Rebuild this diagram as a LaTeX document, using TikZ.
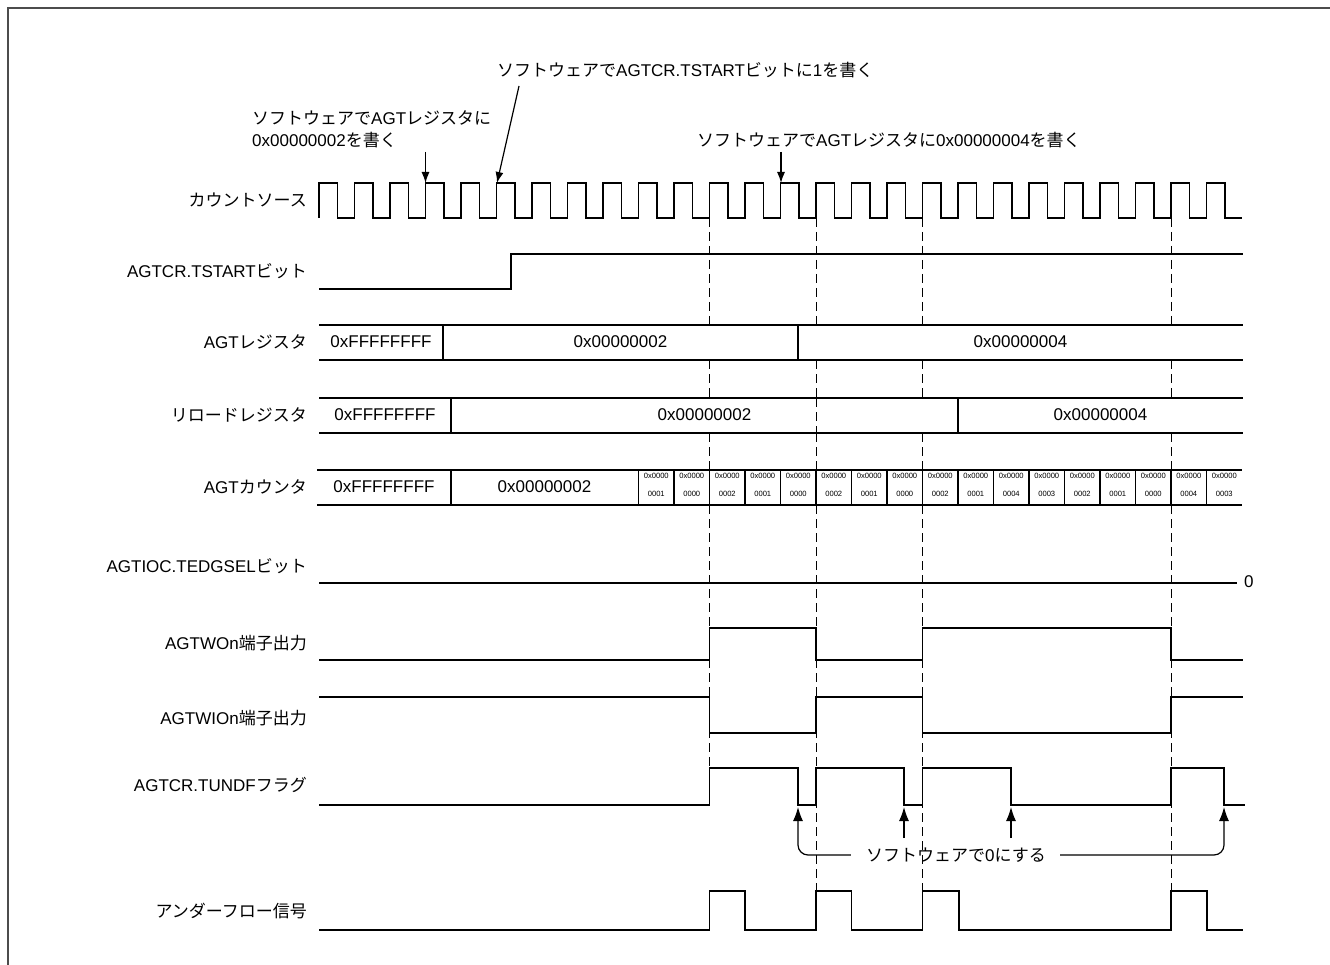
\documentclass[tikz,border=0pt]{standalone}
\usepackage{fontspec}
\setmainfont{Liberation Sans}
\newfontfamily\jp{Noto Sans CJK JP}
\usetikzlibrary{arrows.meta}
\begin{document}
\begin{tikzpicture}[x=1pt,y=-1pt,
  wave/.style={line width=1.3pt, line join=miter},
  lbl/.style={anchor=east, inner sep=0pt, font=\fontsize{17}{20}\selectfont},
  val/.style={inner sep=0pt, font=\fontsize{17}{20}\selectfont},
  tiny/.style={inner sep=0pt, font=\fontsize{7.6}{9}\selectfont},
  guide/.style={line width=0.8pt, dash pattern=on 9pt off 5pt},
  ann/.style={inner sep=0pt, anchor=west, font=\fontsize{17}{20}\selectfont},
  pt/.style={-{Latex[length=11pt,width=8pt]}, line width=1.2pt},
  ptb/.style={-{Latex[length=14pt,width=10pt]}, line width=1.2pt},
  frame/.style={line width=1.2pt, draw=black!70}
]
\useasboundingbox (0,0) rectangle (1330,965);
\draw[frame] (8,965) -- (8,8) -- (1330,8);

% ---- labels
\node[lbl] (l1) at (307,200) {{\jp カウントソース}};
\node[lbl] (l2) at (307,271) {AGTCR.TSTART{\jp ビット}};
\node[lbl] (l3) at (307,342) {AGT{\jp レジスタ}};
\node[lbl] (l4) at (307,415) {{\jp リロードレジスタ}};
\node[lbl] (l5) at (307,487) {AGT{\jp カウンタ}};
\node[lbl] (l6) at (307,566) {AGTIOC.TEDGSEL{\jp ビット}};
\node[lbl] (l7) at (307,643) {AGTWOn{\jp 端子出力}};
\node[lbl] (l8) at (307,718) {AGTWIOn{\jp 端子出力}};
\node[lbl] (l9) at (307,785) {AGTCR.TUNDF{\jp フラグ}};
\node[lbl] (l10) at (307,911) {{\jp アンダーフロー信号}};

% ---- dashed guides
\foreach \x in {816,922.5,1171} {
  \draw[guide] (\x,218) -- (\x,325);
  \draw[guide] (\x,360) -- (\x,398);
  \draw[guide] (\x,433) -- (\x,470);
  \draw[guide] (\x,505) -- (\x,891);
}
\draw[guide] (816,398) -- (816,433);
\draw[guide] (709.5,218) -- (709.5,325);
\draw[guide] (709.5,360) -- (709.5,398);
\draw[guide] (709.5,433) -- (709.5,470);
\draw[guide] (709.5,505) -- (709.5,768);

% ---- count source
\draw[wave] (319,218) foreach \k in {0,...,25} {
  -- ({319+35.5*\k},183) -- ({337.5+35.5*\k},183)
  -- ({337.5+35.5*\k},218) -- ({354.5+35.5*\k},218) };

% ---- TSTART
\draw[wave] (319,289) -- (511,289) -- (511,254) -- (1243,254);

% ---- AGT register
\draw[wave] (319,325) -- (1243,325) (319,360) -- (1243,360);
\draw[wave] (443,325) -- (443,360) (798,325) -- (798,360);
\node[val] (r1) at (381,342) {0xFFFFFFFF};
\node[val] (r2) at (620.5,342) {0x00000002};
\node[val] (r3) at (1020.5,342) {0x00000004};

% ---- reload register
\draw[wave] (319,398) -- (1243,398) (319,433) -- (1243,433);
\draw[wave] (451,398) -- (451,433) (958,398) -- (958,433);
\node[val, fill=white, inner sep=1pt] (p1) at (385,415) {0xFFFFFFFF};
\node[val, fill=white, inner sep=1pt] (p2) at (704.5,415) {0x00000002};
\node[val, fill=white, inner sep=1pt] (p3) at (1100.5,415) {0x00000004};

% ---- AGT counter
\draw[wave] (317,470) -- (1242,470) (317,505) -- (1242,505);
\draw[wave] (451,470) -- (451,505);
\foreach \k in {0,...,16} {
  \draw[wave] ({638.5+35.5*\k},470) -- ({638.5+35.5*\k},505);
}
\node[val] (c1) at (384,487) {0xFFFFFFFF};
\node[val] (c2) at (544.5,487) {0x00000002};
\foreach \v [count=\i from 0] in {0001,0000,0002,0001,0000,0002,0001,0000,0002,0001,0004,0003,0002,0001,0000,0004,0003} {
  \node[tiny] (ch\i) at ({656.25+35.5*\i},476) {0x0000};
  \node[tiny] (cl\i) at ({656.25+35.5*\i},494) {\v};
}

% ---- TEDGSEL
\draw[wave] (319,583) -- (1237,583);
\node[val, anchor=west] (z0) at (1244,582) {0};

% ---- AGTWOn
\draw[wave] (319,660) -- (709.5,660) -- (709.5,628) -- (816,628) -- (816,660)
  -- (922.5,660) -- (922.5,628) -- (1171,628) -- (1171,660) -- (1243,660);
% ---- AGTWIOn
\draw[wave] (319,697) -- (709.5,697) -- (709.5,733) -- (816,733) -- (816,697)
  -- (922.5,697) -- (922.5,733) -- (1171,733) -- (1171,697) -- (1243,697);
% ---- TUNDF
\draw[wave] (319,805) -- (709.5,805) -- (709.5,768) -- (798,768) -- (798,805)
  -- (816,805) -- (816,768) -- (904,768) -- (904,805) -- (922.5,805) -- (922.5,768)
  -- (1011,768) -- (1011,805) -- (1171,805) -- (1171,768) -- (1224,768) -- (1224,805) -- (1245,805);
% ---- underflow signal
\draw[wave] (319,930) -- (709.5,930) -- (709.5,891) -- (745,891) -- (745,930)
  -- (816,930) -- (816,891) -- (851.5,891) -- (851.5,930) -- (922.5,930) -- (922.5,891)
  -- (959,891) -- (959,930) -- (1171,930) -- (1171,891) -- (1207,891) -- (1207,930) -- (1243,930);

% ---- top annotations
\node[ann] (a1) at (497,70) {{\jp ソフトウェアで}AGTCR.TSTART{\jp ビットに}1{\jp を書く}};
\coordinate (t1) at (497,183);
\draw[pt] (519,86) -- (t1);
\node[ann] (a2) at (252,118) {{\jp ソフトウェアで}AGT{\jp レジスタに}};
\node[ann] (a3) at (252,140) {0x00000002{\jp を書く}};
\coordinate (t2) at (425.5,183);
\draw[pt] (425.5,152) -- (t2);
\node[ann] (a4) at (697,140) {{\jp ソフトウェアで}AGT{\jp レジスタに}0x00000004{\jp を書く}};
\coordinate (t3) at (781,183);
\draw[pt] (781,152) -- (t3);

% ---- clear annotation
\node[val] (clr) at (956,855) {{\jp ソフトウェアで}0{\jp にする}};
\draw[ptb, rounded corners=10pt] ([xshift=-15pt]clr.west) -- (798,855) -- (798,807);
\draw[ptb, rounded corners=10pt] ([xshift=14pt]clr.east) -- (1224,855) -- (1224,807);
\draw[ptb] (904,838) -- (904,807);
\draw[ptb] (1011,838) -- (1011,807);
\end{tikzpicture}
\end{document}
